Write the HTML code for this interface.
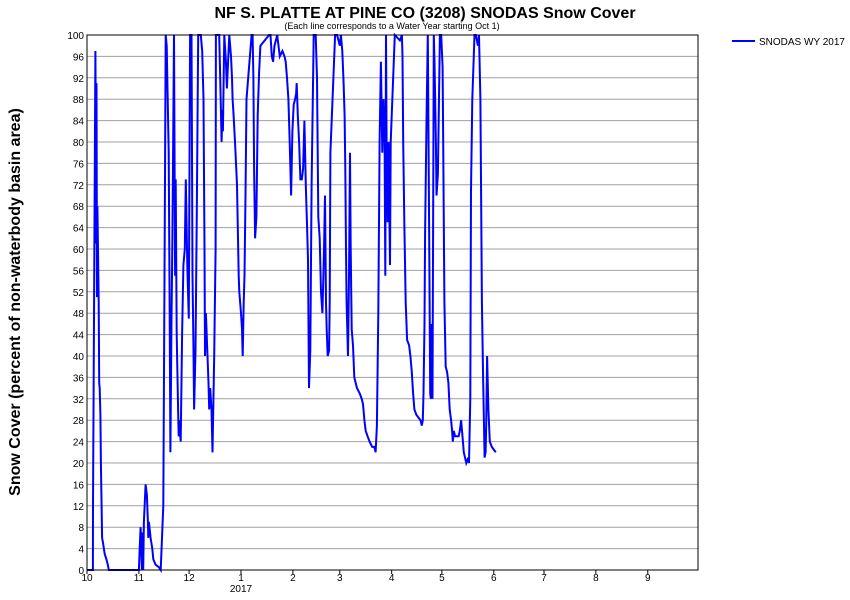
<!DOCTYPE html>
<html><head><meta charset="utf-8"><style>
body{margin:0;background:#fff;font-family:"Liberation Sans",Arial,sans-serif;}
svg{display:block}
</style></head><body>
<svg id="chart" width="850" height="600">
<text x="425" y="18" text-anchor="middle" font-size="16" font-weight="bold">NF S. PLATTE AT PINE CO (3208) SNODAS Snow Cover</text>
<text x="392" y="29" text-anchor="middle" font-size="9">(Each line corresponds to a Water Year starting Oct 1)</text>
<text transform="translate(20,302) rotate(-90)" text-anchor="middle" font-size="16" font-weight="bold">Snow Cover (percent of non-waterbody basin area)</text>
<g id="grid"></g><g id="yticks"></g><g id="xticks"></g><g id="series"></g>
<rect x="87" y="35" width="611" height="535" fill="none" stroke="#000" stroke-width="1"/>
<g>
<line x1="732" y1="41" x2="755" y2="41" stroke="#0000ff" stroke-width="2"/>
<text x="759" y="45" font-size="10">SNODAS WY 2017</text>
</g>
</svg>
<script>
const days = [0,3.5,3.6,4.4,5,5.6,5.7,6,6.2,7,7.3,7.6,8,8.3,9,9.6,10.6,11.6,12.4,13,31,31.5,32,32.8,33,33.6,34,35,35.8,36.4,36.6,37,38,39,39.6,41,43,44,45.6,46.4,47,47.6,48.8,49.4,49.8,50.4,51,52,52.6,53,53.6,54.4,54.8,55,56,56.8,57.6,58.4,59,60,60.8,61.6,62.4,63,63.6,64,64.8,65.6,66.4,68,68.8,69.6,70.2,70.5,71,72,72.6,73,73.6,74.4,75,76,76.8,77,79,79.6,80.4,80.8,81.2,82,83,83.6,84.4,85,86,86.6,87,87.6,88.4,89.6,90.2,90.6,91,92,92.6,93,93.6,94.1,94.7,95.3,98.3,98.9,99.4,99.8,100.4,101.2,102,102.8,103.6,108.8,109.6,110.4,111.2,112,113.6,114.4,115.2,116.7,118,118.7,119.5,120.3,121.1,121.9,122.7,123.5,124.3,124.9,125.3,125.9,126.7,127.5,128.3,129.1,129.9,130.7,131.5,132,132.6,133.4,134.2,135.4,136.6,137.4,138.2,139,139.8,140.6,141.2,141.6,142.2,142.8,143.2,143.8,144.6,145,145.4,148.2,149.4,151,151.7,152.5,153.3,153.9,154.3,154.7,155.1,155.5,155.9,156.5,157.1,157.5,158.1,158.9,159.7,161.3,162.9,164.1,164.9,165.7,166.5,167.6,168.8,170.4,171.6,172.4,173.2,174,174.8,175.6,176.4,177.2,177.8,178.2,178.6,179,179.6,180.2,180.6,181,181.4,183.9,186.9,188.1,188.5,188.9,189.6,190.4,191.2,192.4,193.2,194,194.8,195.6,196.8,198,199.2,200,200.6,201,201.6,202,202.8,203.6,204.4,205,205.4,206,206.4,207.2,207.6,208.4,208.8,209.6,210.8,211.6,212.4,212.8,213.5,214.3,215.1,215.9,216.7,217.5,218.1,218.5,219.1,219.9,221.1,222,222.7,223.5,224.3,225.1,226.6,227.8,228.2,229,229.4,230.2,231.5,232.3,233.5,234.2,235,235.9,236.7,237.5,238.1,238.5,239,239.8,240.6,241.8,243,244.2];
const cover = [0,0,12,61,97,61,91,51,68,50,35,34,29,20,6,5,3,2,1,0,0,4,8,0,7,0,9,16,14,9,6,9,6,4,2,1,0.5,0,12,62,100,98,78,47,22,45,62,100,55,73,44,30,25,28,24,44,57,60,73,56,47,100,100,55,41,30,41,67,100,100,97,88,60,40,48,40,35,30,34,30,22,40,60,100,100,92,80,86,82,100,95,90,96,100,96,92,88,85,80,72,62,55,52,48,45,40,50,55,70,88,100,100,92,75,62,66,85,93,98,100,100,96,95,98,100,98,96,97,96,95,92,88,80,70,82,87,88,89,91,85,80,73,73,75,84,72,64,58,34,41,72,100,100,92,66,62,52,48,55,60,70,50,45,40,41,50,78,100,100,98,100,97,91,85,75,60,50,45,40,55,78,60,45,42,36,34,33,32,31,28,26,25,24,23,23,22,27,48,80,95,78,88,80,55,100,80,65,80,68,57,80,100,99,100,96,80,64,50,43,42,40,37,33,30,29,28.5,28,27,28,33,46,63,84,100,62,33,32,46,32,100,95,80,70,74,100,100,94,80,50,38,37,35,30,28,26,24,26,25,25,25,26,28,25,22,20,21,20,32,71,88,100,100,98,100,88,50,35,21,22,27,40,30,24,23,22.5,22,21];
const yTicks = [0,4,8,12,16,20,24,28,32,36,40,44,48,52,56,60,64,68,72,76,80,84,88,92,96,100];
const xTickLabels = ["10","11","12","1","2","3","4","5","6","7","8","9"];
const xTickDays = [0,31,61,92,123,151,182,212,243,273,304,335];

const NS='http://www.w3.org/2000/svg';
const X0=87,X1=698,Y0=570,Y1=35;
const xs=d=>X0+d*(X1-X0)/365;
const ys=v=>Y0-v*(Y0-Y1)/100;
function mk(tag,attrs,parent){const e=document.createElementNS(NS,tag);for(const k in attrs)e.setAttribute(k,attrs[k]);parent.appendChild(e);return e;}
const grid=document.getElementById('grid'),yt=document.getElementById('yticks'),xt=document.getElementById('xticks'),ser=document.getElementById('series');
yTicks.forEach(v=>{
  const l=mk('line',{x1:X0,x2:X1,y1:ys(v),y2:ys(v),stroke:'#a0a0a0','stroke-width':1},grid);
  
  
  const t=mk('text',{x:X0-3,y:ys(v)+4,'text-anchor':'end','font-size':10},yt);
  t.textContent=v;
  
  
});
xTickDays.forEach((d,i)=>{
  const tk=mk('line',{x1:xs(d),x2:xs(d),y1:Y0,y2:Y0+4,stroke:'#000'},xt);
  
  
  const t=mk('text',{x:xs(d),y:Y0+11,'text-anchor':'middle','font-size':10},xt);
  t.textContent=xTickLabels[i];
  
  
});
const yr=mk('text',{x:xs(92),y:Y0+22,'text-anchor':'middle','font-size':10},xt);
yr.textContent='2017';


const pts=days.map((d,i)=>xs(d).toFixed(1)+','+ys(cover[i]).toFixed(1)).join(' ');
const pl=mk('polyline',{points:pts,fill:'none',stroke:'#0000ff','stroke-width':2,'stroke-linejoin':'miter'},ser);


</script>
</body></html>
